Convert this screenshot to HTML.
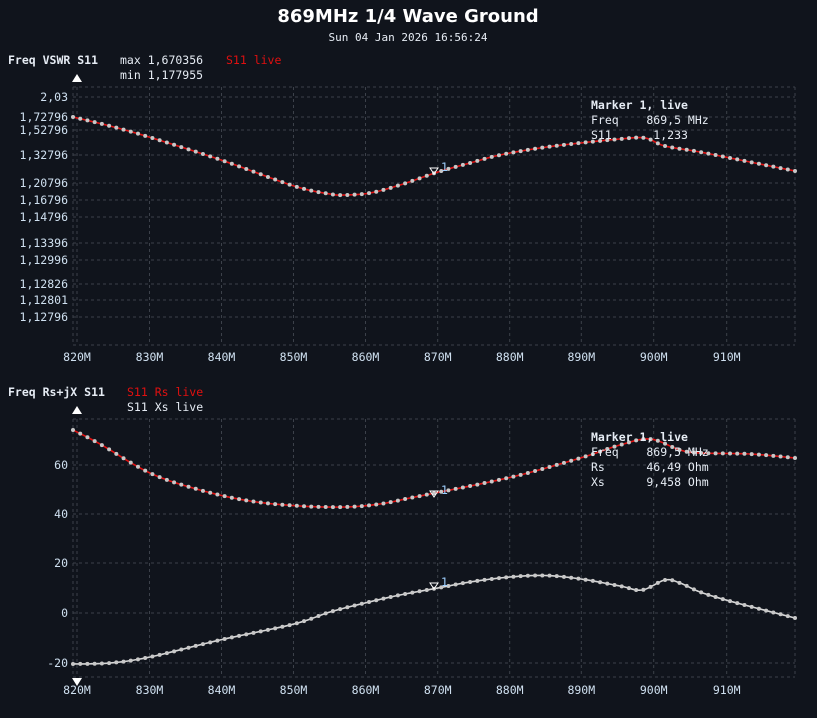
<!DOCTYPE html><html><head><meta charset="utf-8"><style>
html,body{margin:0;padding:0;background:#10141c;width:817px;height:718px;overflow:hidden}
svg{display:block}
text{font-family:"DejaVu Sans Mono","Liberation Mono",monospace;font-size:11.5px;fill:#e6ecf4;white-space:pre}
.ax{fill:#cfe0f0}
</style></head><body>
<svg id="s" width="817" height="718" xmlns="http://www.w3.org/2000/svg" xml:space="preserve">
<rect width="817" height="718" fill="#10141c"/>
<text x="408" y="22" text-anchor="middle" style="font-family:'DejaVu Sans','Liberation Sans',sans-serif;font-size:18px;font-weight:bold;fill:#fff">869MHz 1/4 Wave Ground</text>
<text x="408" y="41" text-anchor="middle" style="font-size:11px">Sun 04 Jan 2026 16:56:24</text>
<text x="8" y="64" style="font-weight:bold">Freq VSWR S11</text>
<text x="120" y="64">max 1,670356</text>
<text x="120" y="79">min 1,177955</text>
<text x="226" y="64" style="fill:#e01010">S11 live</text>
<text x="8" y="396" style="font-weight:bold">Freq Rs+jX S11</text>
<text x="127" y="396" style="fill:#e01010">S11 Rs live</text>
<text x="127" y="411">S11 Xs live</text>
<g id="g"></g>
<polygon points="72,82 77,74 82,82" fill="#fff"/>
<polygon points="72,414 77,406 82,414" fill="#fff"/>
<polygon points="72,678 77,686 82,678" fill="#fff"/>
<text x="591" y="109" style="font-weight:bold">Marker 1, live</text>
<text x="591" y="124">Freq    869,5 MHz</text>
<text x="591" y="139">S11      1,233</text>
<text x="591" y="441" style="font-weight:bold">Marker 1, live</text>
<text x="591" y="456">Freq    869,5 MHz</text>
<text x="591" y="471">Rs      46,49 Ohm</text>
<text x="591" y="486">Xs      9,458 Ohm</text>
</svg>
<script>
(function(){
var g=document.getElementById('g'),NS='http://www.w3.org/2000/svg';
function el(t,a,p){var e=document.createElementNS(NS,t);for(var k in a)e.setAttribute(k,a[k]);(p||g).appendChild(e);return e}
var xs=[77,149.5,221.5,293.5,365.5,437.7,509.7,581.3,653.7,726.7];
var GC='#3c414a';
function grid(t,b,ys){xs.forEach(function(x){el('line',{x1:x,y1:t,x2:x,y2:b,stroke:GC,'stroke-dasharray':'3,3'})});
el('line',{x1:795,y1:t,x2:795,y2:b,stroke:GC,'stroke-dasharray':'3,3'});
el('line',{x1:73,y1:t,x2:73,y2:b,stroke:GC,'stroke-dasharray':'3,3'});
ys.concat([t,b]).forEach(function(y){el('line',{x1:73,y1:y,x2:795,y2:y,stroke:GC,'stroke-dasharray':'3,3'})});}
var tl=[['2,03',97],['1,72796',117],['1,52796',130],['1,32796',155],['1,20796',183],['1,16796',200],['1,14796',217],['1,13396',243],['1,12996',260],['1,12826',284],['1,12801',300],['1,12796',317]];
grid(87,345,tl.map(function(a){return a[1]}));
tl.forEach(function(a){var t=el('text',{x:68,y:a[1]+4,'text-anchor':'end','class':'ax'});t.textContent=a[0]});
grid(419,677,[465,514,563,613,663]);
[[60,465],[40,514],[20,563],[0,613],[-20,663]].forEach(function(a){var t=el('text',{x:68,y:a[1]+4,'text-anchor':'end','class':'ax'});t.textContent=a[0]});
xs.forEach(function(x,i){[361,694].forEach(function(y){var t=el('text',{x:x,y:y,'text-anchor':'middle','class':'ax'});t.textContent=(820+i*10)+'M'})});
function cr(p){var out=[];for(var i=0;i<p.length-1;i++){var p0=p[Math.max(i-1,0)],p1=p[i],p2=p[i+1],p3=p[Math.min(i+2,p.length-1)];
for(var s=0;s<20;s++){var t=s/20,t2=t*t,t3=t2*t;var f=function(k){return 0.5*((2*p1[k])+(-p0[k]+p2[k])*t+(2*p0[k]-5*p1[k]+4*p2[k]-p3[k])*t2+(-p0[k]+3*p1[k]-3*p2[k]+p3[k])*t3)};out.push([f(0),f(1)])}}out.push(p[p.length-1]);return out}
function yAt(c,x){for(var i=0;i<c.length-1;i++){if(c[i+1][0]>=x){var a=c[i],b=c[i+1],t=(x-a[0])/((b[0]-a[0])||1);return a[1]+t*(b[1]-a[1])}}return c[c.length-1][1]}
function series(pts,col){var c=cr(pts);el('polyline',{points:c.map(function(p){return p.join(',')}).join(' '),fill:'none',stroke:col,'stroke-width':1.6});
for(var x=73;x<=795.5;x+=7.22){el('circle',{cx:x,cy:yAt(c,x),r:2,fill:'#c8c8c8'})}}
series([[73,117],[110,126],[149,137],[221,160],[294,186],[330,194],[345,195],[370,193],[400,185],[438,172],[470,163],[500,155],[540,148],[580,143],[620,139],[645,138],[665,146],[700,152],[750,162],[795,171]],'#e01010');
series([[73,430],[100,444],[150,473],[200,490],[250,501],[300,506],[345,507],[380,504],[410,498],[440,492],[480,484],[520,475],[560,464],[590,455],[620,445],[650,439],[680,450],[700,453],[750,454],[795,458]],'#e01010');
series([[73,664],[110,663],[150,657],[220,640],[294,624],[330,612],[365,603],[400,595],[438,588],[470,582],[510,577],[545,575.5],[581,579],[620,586],[642,590],[665,580],[680,583],[700,592],[726,600],[760,609],[795,618]],'#d8d8d8');
[[434,174],[434,589],[434,497]].forEach(function(m){el('polygon',{points:(m[0]-4)+','+(m[1]-6)+' '+(m[0]+4)+','+(m[1]-6)+' '+m[0]+','+m[1],fill:'none',stroke:'#fff','stroke-width':1});var t=el('text',{x:m[0]+7,y:m[1]-3,style:'fill:#9fd0ff'});t.textContent='1'});
})();
</script>
</body></html>
